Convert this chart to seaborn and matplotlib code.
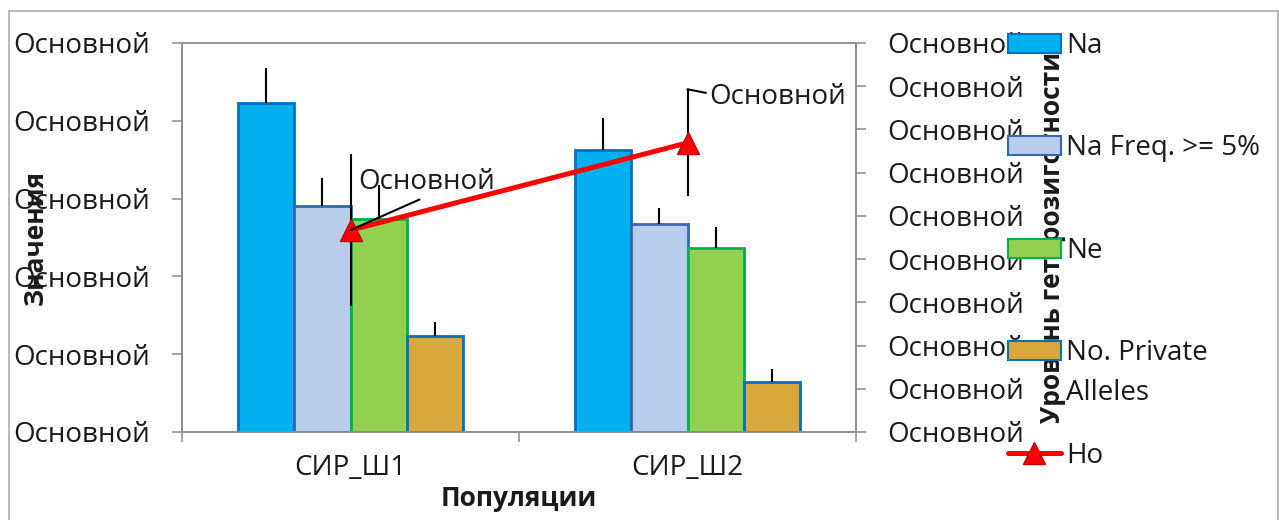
import numpy as np
import pandas as pd
import matplotlib
matplotlib.use("Agg")
import matplotlib.pyplot as plt
import seaborn as sns
from matplotlib.patches import Patch, Rectangle
from matplotlib.lines import Line2D
from matplotlib.text import Annotation

# ---------------- data ----------------
populations = ["СИР_Ш1", "СИР_Ш2"]
metrics = ["Na", "Na Freq. >= 5%", "Ne", "No. Private Alleles"]
na = [4.23, 3.62]
na_err = [0.45, 0.41]
na_freq = [2.90, 2.67]
na_freq_err = [0.37, 0.21]
ne = [2.74, 2.36]
ne_err = [0.44, 0.27]
private = [1.23, 0.64]
private_err = [0.19, 0.17]
ho = [0.467, 0.669]
ho_err = [0.176, 0.124]
left_tick_labels = ["Основной"] * 6
right_tick_labels = ["Основной"] * 10
ho_point_labels = ["Основной", "Основной"]

# ---------------- style ----------------
sns.set_style("white")
plt.rcParams["font.family"] = ["Open Sans", "DejaVu Sans"]
GRAY = "#8C8C8C"
TXT = "#1a1a1a"

fills = ["#00B0F0", "#B7CDEB", "#92D050", "#D8A93A"]
edges = ["#0070C0", "#3A66AF", "#00B050", "#0070C0"]
errs = [na_err, na_freq_err, ne_err, private_err]

fig = plt.figure(figsize=(12.79, 5.20), dpi=100)
ax = fig.add_axes([182 / 1279, 88 / 520, 674 / 1279, 389 / 520])

df = pd.DataFrame({
    "pop": populations * len(metrics),
    "metric": np.repeat(metrics, len(populations)),
    "value": na + na_freq + ne + private,
})

sns.barplot(data=df, x="pop", y="value", hue="metric", hue_order=metrics,
            order=populations, palette=fills, saturation=1, width=0.67,
            errorbar=None, legend=False, ax=ax)

for container, ec, err in zip(ax.containers, edges, errs):
    for bar, e in zip(container, err):
        bar.set_edgecolor(ec)
        bar.set_linewidth(2.0)
        cx = bar.get_x() + bar.get_width() / 2
        ax.errorbar(cx, bar.get_height(), yerr=[[0], [e]], fmt="none",
                    ecolor="black", elinewidth=1.5, capsize=0, zorder=3)

ax.set_xlim(-0.5, 1.5)
ax.set_ylim(0, 5)
ax.set_yticks(np.arange(6), labels=left_tick_labels)
ax.set_xticks(np.arange(len(populations)), labels=populations)
ax.set_xticks([-0.5, 0.5, 1.5], minor=True)
ax.tick_params(axis="x", which="major", bottom=True, length=0, pad=16,
               labelsize=20, labelcolor=TXT)
ax.tick_params(axis="x", which="minor", bottom=True, length=7.2, width=1.1,
               color=GRAY, direction="out")
ax.tick_params(axis="y", left=True, length=7.2, width=1.1, color=GRAY,
               direction="out", pad=16, labelsize=20, labelcolor=TXT)
for sp in ax.spines.values():
    sp.set_color(GRAY)
    sp.set_linewidth(1.1)

ax.set_ylabel("Значения", fontsize=19, fontweight="bold", color=TXT)
ax.yaxis.set_label_coords(-0.218, 0.5)
ax.yaxis.label.set_va("center")
ax.set_xlabel("Популяции", fontsize=19, fontweight="bold", color=TXT)
ax.xaxis.set_label_coords(0.5, -0.135)

# ---------------- secondary axis ----------------
ax2 = ax.twinx()
ax2.set_ylim(0, 0.9)
ax2.set_yticks(np.linspace(0, 0.9, 10), labels=right_tick_labels)
ax2.tick_params(axis="y", right=True, length=7.2, width=1.1, color=GRAY,
                direction="out", pad=15, labelsize=20, labelcolor=TXT)
for sp in ax2.spines.values():
    sp.set_color(GRAY)
    sp.set_linewidth(1.1)

x_pos = np.arange(len(populations))
ax2.errorbar(x_pos, ho, yerr=ho_err, fmt="none", ecolor="black",
             elinewidth=1.5, capsize=0, zorder=2)
sns.lineplot(x=x_pos, y=ho, ax=ax2, color="#FF0000", linewidth=3.6,
             marker="^", markersize=16, markerfacecolor="#FF0000",
             markeredgecolor="#C00000", markeredgewidth=1, zorder=3)

ax2.annotate(ho_point_labels[0], xy=(x_pos[0], ho[0]), xytext=(55, 34.5),
             textcoords="offset points", ha="center", va="center",
             fontsize=20, color=TXT,
             arrowprops=dict(arrowstyle="-", color="black", lw=1.5,
                             shrinkA=0, shrinkB=0, relpos=(0.5, 0)))
ax2.annotate(ho_point_labels[1], xy=(x_pos[1], ho[1] + ho_err[1]),
             xytext=(64.8, -5.5), textcoords="offset points", ha="center",
             va="center", fontsize=20, color=TXT,
             arrowprops=dict(arrowstyle="-", color="black", lw=1.5,
                             shrinkA=0, shrinkB=0, relpos=(0, 0.62)))

ax2.set_ylabel("Уровень гетерозиготности", fontsize=19, fontweight="bold",
               color=TXT, rotation=90)
ax2.yaxis.set_label_coords(1.291, 0.5)
ax2.yaxis.label.set_va("center")

# ---------------- legend ----------------
handles = [Patch(facecolor=f, edgecolor=e, linewidth=1.5)
           for f, e in zip(fills, edges)]
handles.append(Line2D([], [], color="#FF0000", lw=3.6, marker="^",
                      markersize=16, markerfacecolor="#FF0000",
                      markeredgecolor="#C00000"))
legend_labels = ["Na", "Na Freq. >= 5%", "Ne", "No. Private", "Ho"]
leg = fig.legend(handles, legend_labels, loc="upper left",
                 bbox_to_anchor=(1008 / 1279, (520 - 32) / 520),
                 frameon=False, fontsize=20, handlelength=1.9,
                 handleheight=0.68, handletextpad=0.18, labelspacing=2.68,
                 borderpad=0, borderaxespad=0, labelcolor=TXT)

fig.canvas.draw()
extra = Annotation("Alleles", xy=(0, 0), xycoords=leg.get_texts()[3],
                   xytext=(0, -28.8), textcoords="offset points",
                   ha="left", va="bottom", fontsize=20, color=TXT)
extra.set_zorder(10)
fig.add_artist(extra)

# outer chart border
fig.add_artist(Rectangle((9 / 1279, -0.1), (1278 - 9) / 1279,
                         (520 - 11) / 520 + 0.1, transform=fig.transFigure,
                         fill=False, edgecolor="#A6A6A6", lw=1.1,
                         clip_on=False))

fig.savefig("out.png", dpi=100)
